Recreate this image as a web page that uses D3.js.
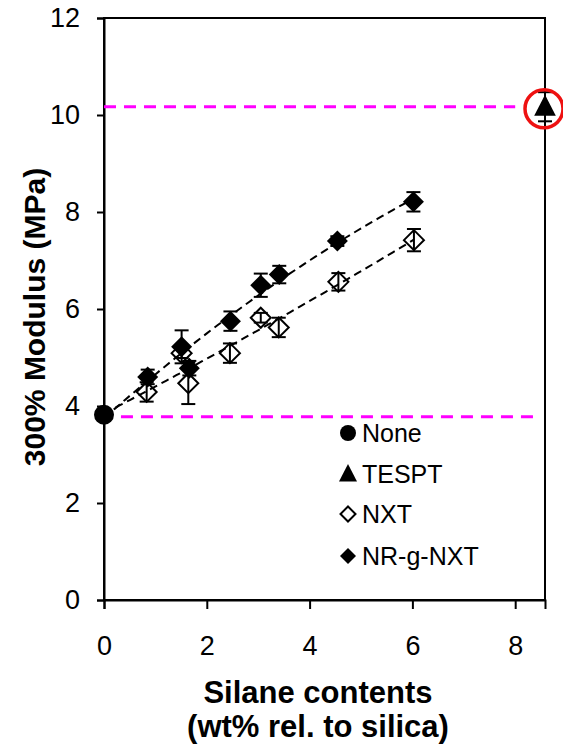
<!DOCTYPE html>
<html>
<head>
<meta charset="utf-8">
<script src="https://cdn.jsdelivr.net/npm/d3@7"></script>
<style>
  body { margin: 0; background: #fff; }
  svg { display: block; font-family: "Liberation Sans", Arial, sans-serif; }
</style>
</head>
<body>
<div id="chart"></div>
<script>
// series values
const legendNames = ["None", "TESPT", "NXT", "NR-g-NXT"];

const noneContent = [0];
const noneModulus = [3.82];

const tesptContent = [8.58];
const tesptModulus = [10.17];
const tesptError = [0.3];

const nxtContent = [0.83, 1.51, 1.64, 2.45, 3.05, 3.40, 4.56, 6.03];
const nxtModulus = [4.29, 5.09, 4.47, 5.09, 5.82, 5.62, 6.56, 7.42];
const nxtError = [0.2, 0.1, 0.43, 0.2, 0.1, 0.2, 0.18, 0.23];

const graftContent = [0.85, 1.51, 1.66, 2.46, 3.05, 3.41, 4.54, 6.02];
const graftModulus = [4.60, 5.22, 4.78, 5.75, 6.49, 6.71, 7.40, 8.21];
const graftError = [0.15, 0.34, 0.15, 0.2, 0.24, 0.18, 0.1, 0.2];

// reference levels (magenta dashed)
const refLevels = [
    { y: 10.17, x0: 0, x1: 8.0 },
    { y: 3.78, x0: 0.33, x1: 8.35 }
];

const xTicks = [0, 2, 4, 6, 8];
const yTicks = [0, 2, 4, 6, 8, 10, 12];

const width = 563;
const height = 747;
const margin = { top: 18, right: 18, bottom: 147, left: 104 };

const svg = d3.select("#chart").append("svg")
    .attr("width", width)
    .attr("height", height);

const x = d3.scaleLinear().domain([0, 8.58]).range([margin.left, width - margin.right]);
const y = d3.scaleLinear().domain([0, 12]).range([height - margin.bottom, margin.top]);

// plot frame
svg.append("rect")
    .attr("x", x(0)).attr("y", y(12))
    .attr("width", x(8.58) - x(0)).attr("height", y(0) - y(12))
    .attr("fill", "none").attr("stroke", "#000").attr("stroke-width", 2);

const yAxis = svg.append("g")
    .attr("transform", `translate(${x(0)},0)`)
    .call(d3.axisLeft(y).tickValues(yTicks).tickSize(7).tickPadding(17).tickFormat(d3.format("d")));

const xAxis = svg.append("g")
    .attr("transform", `translate(0,${y(0)})`)
    .call(d3.axisBottom(x).tickValues(xTicks).tickSize(9).tickPadding(27).tickFormat(d3.format("d")));

[xAxis, yAxis].forEach(g => {
    g.select(".domain").attr("stroke-width", 2);
    g.selectAll(".tick line").attr("stroke-width", 2);
    g.selectAll("text")
        .attr("font-size", 27)
        .attr("font-family", "'Liberation Sans', Arial, sans-serif")
        .attr("fill", "#000");
});

// axis titles
svg.append("text")
    .attr("transform", `translate(45,317) rotate(-90)`)
    .attr("text-anchor", "middle")
    .attr("font-size", 30)
    .attr("font-weight", "bold")
    .text("300% Modulus (MPa)");

svg.append("text")
    .attr("x", 318).attr("y", 703)
    .attr("text-anchor", "middle")
    .attr("font-size", 31)
    .attr("font-weight", "bold")
    .text("Silane contents");

svg.append("text")
    .attr("x", 318).attr("y", 737)
    .attr("text-anchor", "middle")
    .attr("font-size", 31)
    .attr("font-weight", "bold")
    .text("(wt% rel. to silica)");

// magenta reference lines
svg.append("g")
    .selectAll("line")
    .data(refLevels)
    .enter()
    .append("line")
    .attr("x1", d => x(d.x0))
    .attr("x2", d => x(d.x1))
    .attr("y1", d => y(d.y))
    .attr("y2", d => y(d.y))
    .attr("stroke", "#ff00ff")
    .attr("stroke-width", 3)
    .attr("stroke-dasharray", "12,8");

// quadratic least-squares trend, fitted through the None point plus the series
function quadFit(xs, ys) {
    const n = xs.length;
    let s = [0, 0, 0, 0, 0], t = [0, 0, 0];
    for (let i = 0; i < n; i++) {
        const xi = xs[i], yi = ys[i];
        for (let k = 0; k <= 4; k++) s[k] += Math.pow(xi, k);
        for (let k = 0; k <= 2; k++) t[k] += yi * Math.pow(xi, k);
    }
    // solve 3x3 normal equations
    const A = [[s[0], s[1], s[2], t[0]], [s[1], s[2], s[3], t[1]], [s[2], s[3], s[4], t[2]]];
    for (let c = 0; c < 3; c++) {
        for (let r = c + 1; r < 3; r++) {
            const f = A[r][c] / A[c][c];
            for (let k = c; k < 4; k++) A[r][k] -= f * A[c][k];
        }
    }
    const b = [0, 0, 0];
    for (let r = 2; r >= 0; r--) {
        let v = A[r][3];
        for (let k = r + 1; k < 3; k++) v -= A[r][k] * b[k];
        b[r] = v / A[r][r];
    }
    return v => b[0] + b[1] * v + b[2] * v * v;
}

const trendLine = d3.line().x(d => x(d[0])).y(d => y(d[1]));

[[nxtContent, nxtModulus], [graftContent, graftModulus]].forEach(([xs, ys]) => {
    const f = quadFit(noneContent.concat(xs), noneModulus.concat(ys));
    const xmax = d3.max(xs);
    const pts = d3.range(0, 61).map(i => {
        const v = xmax * i / 60;
        return [v, f(v)];
    });
    svg.append("path")
        .attr("d", trendLine(pts))
        .attr("fill", "none")
        .attr("stroke", "#000")
        .attr("stroke-width", 2)
        .attr("stroke-dasharray", "8,5");
});

// error bars
function errorBars(xs, ys, es) {
    const g = svg.append("g").attr("stroke", "#000").attr("stroke-width", 2);
    xs.forEach((v, i) => {
        const px = x(v), lo = y(ys[i] - es[i]), hi = y(ys[i] + es[i]);
        g.append("line").attr("x1", px).attr("x2", px).attr("y1", lo).attr("y2", hi);
        g.append("line").attr("x1", px - 7).attr("x2", px + 7).attr("y1", lo).attr("y2", lo);
        g.append("line").attr("x1", px - 7).attr("x2", px + 7).attr("y1", hi).attr("y2", hi);
    });
}

errorBars(graftContent, graftModulus, graftError);
errorBars(nxtContent, nxtModulus, nxtError);
errorBars(tesptContent, tesptModulus, tesptError);

const diamond = r => `M0,${-r}L${r},0L0,${r}L${-r},0Z`;
const triangle = r => `M0,${-r}L${r * 0.9},${r * 0.75}L${-r * 0.9},${r * 0.75}Z`;

// NXT open diamonds
svg.append("g")
    .selectAll("path")
    .data(nxtContent.map((v, i) => [v, nxtModulus[i]]))
    .enter()
    .append("path")
    .attr("transform", d => `translate(${x(d[0])},${y(d[1])})`)
    .attr("d", diamond(10))
    .attr("fill", "#fff")
    .attr("fill-opacity", 0)
    .attr("stroke", "#000")
    .attr("stroke-width", 2);

// NR-g-NXT filled diamonds
svg.append("g")
    .selectAll("path")
    .data(graftContent.map((v, i) => [v, graftModulus[i]]))
    .enter()
    .append("path")
    .attr("transform", d => `translate(${x(d[0])},${y(d[1])})`)
    .attr("d", diamond(10.5))
    .attr("fill", "#000");

// None
svg.append("g")
    .selectAll("circle")
    .data(noneContent.map((v, i) => [v, noneModulus[i]]))
    .enter()
    .append("circle")
    .attr("cx", d => x(d[0]))
    .attr("cy", d => y(d[1]))
    .attr("r", 10)
    .attr("fill", "#000");

// TESPT
const tespt = tesptContent.map((v, i) => [v, tesptModulus[i]]);
svg.append("g")
    .selectAll("path")
    .data(tespt)
    .enter()
    .append("path")
    .attr("transform", d => `translate(${x(d[0])},${y(d[1])})`)
    .attr("d", triangle(12))
    .attr("fill", "#000");

// red highlight ring
svg.append("g")
    .selectAll("circle")
    .data(tespt)
    .enter()
    .append("circle")
    .attr("cx", d => x(d[0]) - 1)
    .attr("cy", d => y(d[1]) + 2)
    .attr("r", 19)
    .attr("fill", "none")
    .attr("stroke", "#ee1111")
    .attr("stroke-width", 3.5);

// legend
const legendY = [442, 483, 523, 565];
const legend = svg.append("g");
legendNames.forEach((name, i) => {
    const cy = legendY[i] - 9;
    const m = legend.append("g").attr("transform", `translate(348,${cy})`);
    if (i === 0) m.append("circle").attr("r", 8).attr("fill", "#000");
    if (i === 1) m.append("path").attr("d", triangle(10)).attr("fill", "#000");
    if (i === 2) m.append("path").attr("d", diamond(7.5)).attr("fill", "#fff").attr("stroke", "#000").attr("stroke-width", 2);
    if (i === 3) m.append("path").attr("d", diamond(8)).attr("fill", "#000");
    legend.append("text")
        .attr("x", 362)
        .attr("y", legendY[i])
        .attr("font-size", 25)
        .text(name);
});
</script>
</body>
</html>
